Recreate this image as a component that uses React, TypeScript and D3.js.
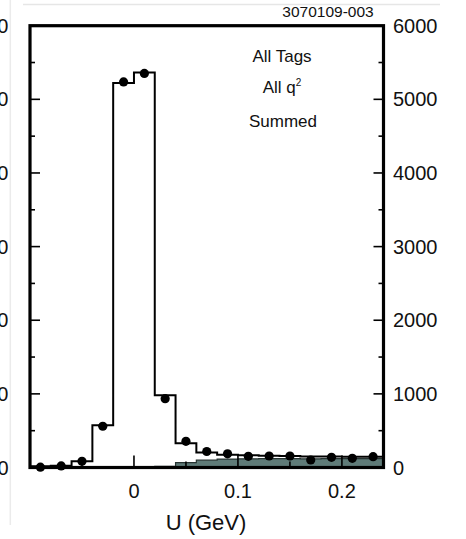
import React from "react";
import * as d3 from "d3";

// Bin centres of the U distribution (bin width 0.02 GeV)
const uCenters = [-0.09, -0.07, -0.05, -0.03, -0.01, 0.01, 0.03, 0.05, 0.07, 0.09, 0.11, 0.13, 0.15, 0.17, 0.19, 0.21, 0.23];
const binWidth = 0.02;
// Summed fit (signal + background), solid step histogram
const fitTotal = [18, 24, 85, 575, 5222, 5366, 980, 330, 205, 172, 165, 160, 155, 150, 148, 146, 145];
// Background component, shaded
const background = [0, 0, 0, 0, 0, 4, 15, 65, 100, 115, 118, 120, 120, 118, 120, 120, 120];
// Data points
const dataCounts = [5, 22, 85, 560, 5236, 5352, 935, 355, 217, 186, 152, 156, 156, 102, 138, 125, 147];

const yMajor = [0, 1000, 2000, 3000, 4000, 5000, 6000];
const yMinor = [500, 1500, 2500, 3500, 4500, 5500];
const xMajor = [0, 0.1, 0.2];
const xMinor = [-0.05, 0.05, 0.15];
const xTickLabels = ["0", "0.1", "0.2"];
const textLines = ["All Tags", "Summed"];

const W = 466;
const H = 539;
const left = 30;
const right = 383.5;
const top = 25.7;
const bottom = 467.5;

export default function App() {
  const x = d3.scaleLinear().domain([-0.1, 0.24]).range([left, right]);
  const y = d3.scaleLinear().domain([0, 6000]).range([bottom, top]);

  const stepPoints = (vals: number[]) => {
    const pts: [number, number][] = [];
    uCenters.forEach((c, i) => {
      pts.push([x(c - binWidth / 2), y(vals[i])]);
      pts.push([x(c + binWidth / 2), y(vals[i])]);
    });
    return pts;
  };

  const fitPath = d3.line()(stepPoints(fitTotal)) as string;
  const bgArea = d3
    .area<[number, number]>()
    .x((d) => d[0])
    .y0(y(0))
    .y1((d) => d[1])(stepPoints(background)) as string;

  const font = "'Liberation Sans', Arial, Helvetica, sans-serif";

  return (
    <svg
      width={W}
      height={H}
      style={{ position: "absolute", left: 0, top: 0, background: "#fff" }}
      fontFamily={font}
    >
      {/* faint page borders */}
      <line x1={23} x2={440} y1={4.5} y2={4.5} stroke="#e6e6e6" strokeWidth={1.5} />
      <line x1={10.3} x2={10.3} y1={0} y2={525} stroke="#ebebeb" strokeWidth={1.5} />

      <text x={328} y={17} fontSize={15.5} textAnchor="middle" fill="#111">
        3070109-003
      </text>

      {/* background component */}
      <path d={bgArea} fill="#5f7b78" stroke="#263331" strokeWidth={1.2} />

      {/* total fit */}
      <path d={fitPath} fill="none" stroke="#000" strokeWidth={2} />

      {/* y ticks, left and right */}
      {yMajor.map((v) => (
        <g key={"ym" + v}>
          <line x1={left} x2={left + 10} y1={y(v)} y2={y(v)} stroke="#000" strokeWidth={1.6} />
          <line x1={right - 10} x2={right} y1={y(v)} y2={y(v)} stroke="#000" strokeWidth={1.6} />
          <text x={8.5} y={y(v) + 7} fontSize={20} textAnchor="end" fill="#111">
            {v}
          </text>
          <text x={393} y={y(v) + 7} fontSize={20} textAnchor="start" fill="#111">
            {v}
          </text>
        </g>
      ))}
      {yMinor.map((v) => (
        <g key={"yn" + v}>
          <line x1={left} x2={left + 5} y1={y(v)} y2={y(v)} stroke="#000" strokeWidth={1.6} />
          <line x1={right - 5} x2={right} y1={y(v)} y2={y(v)} stroke="#000" strokeWidth={1.6} />
        </g>
      ))}

      {/* x ticks */}
      {xMajor.map((v, i) => (
        <g key={"xm" + v}>
          <line x1={x(v)} x2={x(v)} y1={bottom} y2={bottom - 12} stroke="#000" strokeWidth={1.6} />
          <text x={x(v)} y={498} fontSize={20} textAnchor="middle" fill="#111">
            {xTickLabels[i]}
          </text>
        </g>
      ))}
      {xMinor.map((v) => (
        <line key={"xn" + v} x1={x(v)} x2={x(v)} y1={bottom} y2={bottom - 6} stroke="#000" strokeWidth={1.6} />
      ))}

      {/* frame */}
      <rect x={left} y={top} width={right - left} height={bottom - top} fill="none" stroke="#000" strokeWidth={3.2} />

      {/* data points */}
      {uCenters.map((c, i) => (
        <circle key={"p" + i} cx={x(c)} cy={y(dataCounts[i])} r={4.6} fill="#000" />
      ))}

      {/* annotations */}
      <text x={282} y={62} fontSize={17} textAnchor="middle" fill="#111">
        {textLines[0]}
      </text>
      <text x={282} y={93} fontSize={17} textAnchor="middle" fill="#111">
        All q<tspan fontSize={10} dy={-7}>2</tspan>
      </text>
      <text x={283} y={127} fontSize={17} textAnchor="middle" fill="#111">
        {textLines[1]}
      </text>

      <text x={206} y={530} fontSize={22} textAnchor="middle" fill="#111">
        U (GeV)
      </text>
    </svg>
  );
}
